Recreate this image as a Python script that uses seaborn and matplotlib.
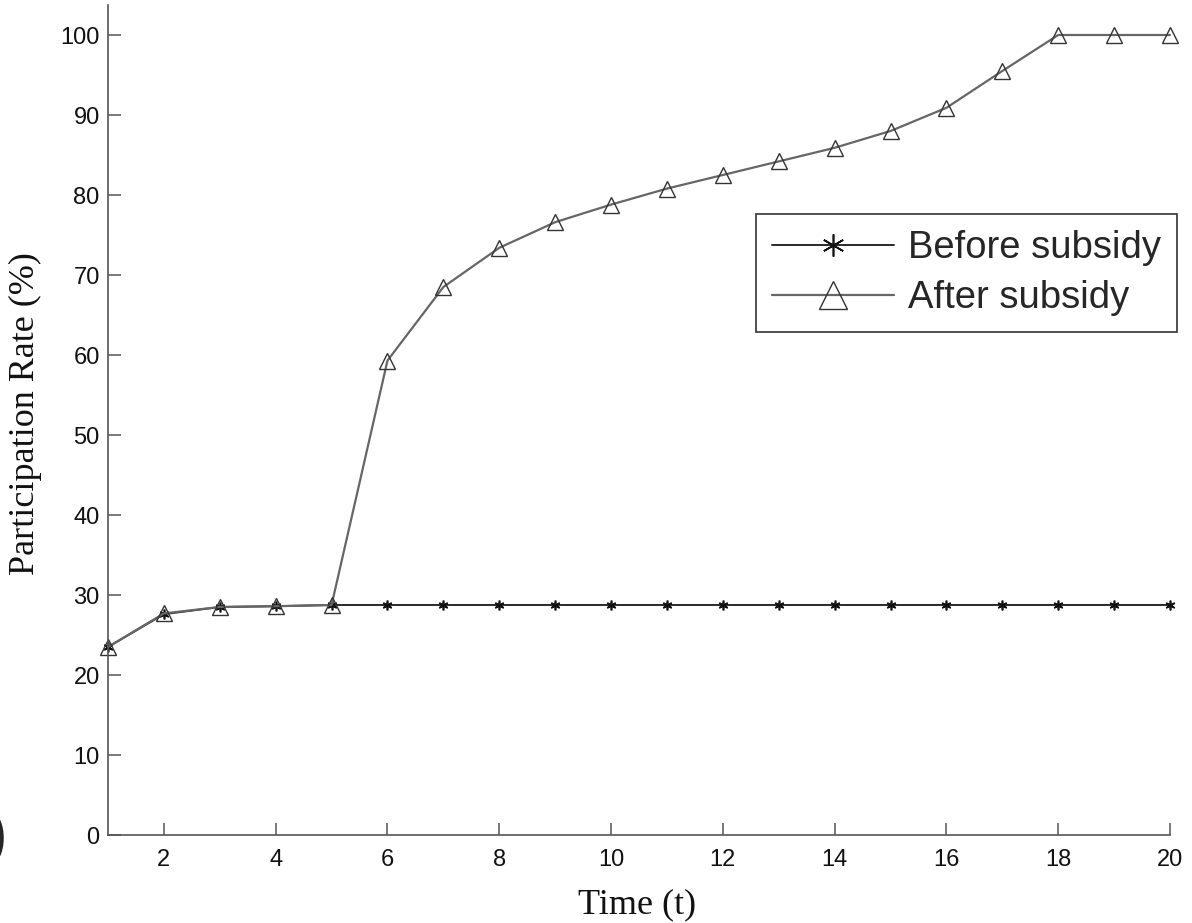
import matplotlib
matplotlib.use("Agg")
import matplotlib.pyplot as plt
import numpy as np
import pandas as pd
import seaborn as sns

# data
time_t = list(range(1, 21))
before = [23.5, 27.6, 28.5, 28.6, 28.75, 28.75, 28.75, 28.75, 28.75, 28.75,
          28.75, 28.75, 28.75, 28.75, 28.75, 28.75, 28.75, 28.75, 28.75, 28.75]
after = [23.5, 27.7, 28.5, 28.6, 28.75, 59.3, 68.5, 73.4, 76.6, 78.8,
         80.8, 82.5, 84.2, 85.9, 88.0, 90.9, 95.5, 100.0, 100.0, 100.0]
x_ticks = list(range(2, 21, 2))
y_ticks = list(range(0, 101, 10))

df = pd.DataFrame({"t": time_t, "before": before, "after": after})

sns.set_theme(style="ticks")
plt.rcParams["font.family"] = ["Liberation Sans", "DejaVu Sans"]

fig = plt.figure(figsize=(11.92, 9.23), dpi=100)
ax = fig.add_axes([108 / 1192, 88 / 923, 1062 / 1192, 830 / 923])

# before subsidy: asterisks
sns.lineplot(data=df, x="t", y="before", ax=ax, color="#2a2a2a", lw=1.4,
             marker=(6, 2, 0), markersize=7, markeredgewidth=1.2,
             markeredgecolor="#111111", label="Before subsidy", clip_on=False)
# after subsidy: open triangles
sns.lineplot(data=df, x="t", y="after", ax=ax, color="#666666", lw=1.6,
             marker="^", markersize=11.5, markerfacecolor="none",
             markeredgewidth=1.0, markeredgecolor="#333333", label="After subsidy",
             clip_on=False)

ax.set_xlim(1, 20)
ax.set_ylim(0, 103.75)
ax.set_xticks(x_ticks)
ax.set_yticks(y_ticks)
sns.despine(ax=ax)
for s in ["left", "bottom"]:
    ax.spines[s].set_color("#555555")
    ax.spines[s].set_linewidth(1.2)
ax.tick_params(direction="in", length=9, width=1.1, color="#555555",
               labelsize=17, labelcolor="#111111")
ax.tick_params(axis="x", pad=10)
ax.tick_params(axis="y", pad=6)

ax.set_xlabel("Time (t)", family=["Liberation Serif", "DejaVu Serif"],
              fontsize=26, color="#111111")
ax.set_ylabel("Participation Rate (%)", family=["Liberation Serif", "DejaVu Serif"],
              fontsize=26, color="#111111")
ax.xaxis.set_label_coords(0.498, -0.064)
ax.yaxis.set_label_coords(-0.062, 0.508)

leg = ax.legend(loc="upper right", bbox_to_anchor=(1.0064, 0.748),
                fontsize=27.5, frameon=True, fancybox=False, framealpha=1,
                edgecolor="#333333", handlelength=3.2, handletextpad=0.35,
                labelspacing=0.36, borderpad=0.42, borderaxespad=0)
leg.get_frame().set_linewidth(1.2)
hb, ha = leg.legend_handles
hb.set_markersize(16)
ha.set_markersize(20)

# cut off panel letter at the left edge
fig.text(-0.01, 0.092, ")", fontsize=40, weight="bold", va="center", ha="left")

fig.savefig("out.png", dpi=100)
